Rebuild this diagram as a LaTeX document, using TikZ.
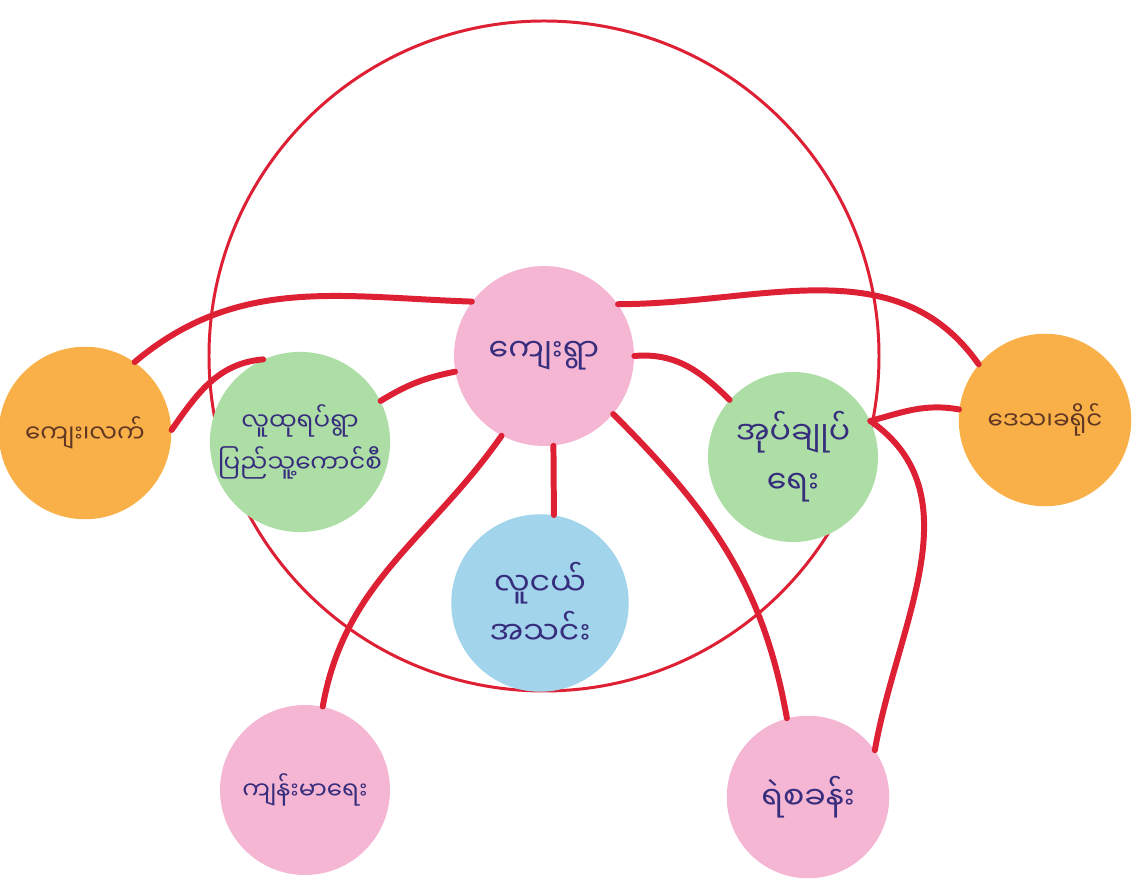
\documentclass[tikz,border=0pt]{standalone}
\usepackage{fontspec}
\newfontfamily\myan[Script=Myanmar]{Noto Sans Myanmar UI}
\usepackage{tikz}
\usetikzlibrary{positioning}
\definecolor{paperpink}{RGB}{245,182,212}
\definecolor{paperorange}{RGB}{250,176,72}
\definecolor{papergreen}{RGB}{172,222,165}
\definecolor{paperblue}{RGB}{162,212,236}
\definecolor{markerred}{RGB}{222,32,52}
\definecolor{penblue}{RGB}{55,45,125}
\definecolor{penbrown}{RGB}{95,55,35}
\tikzset{paper/.style={circle, inner sep=0pt, align=center, font=\myan\fontsize{18}{28}\selectfont, text=penblue},
	small text/.style={font=\myan\fontsize{14}{24}\selectfont},
	link/.style={draw=markerred, line width=3.4pt, line cap=round},
	ring/.style={draw=markerred, line width=1.7pt}
}
\tikzstyle{pink_node} = [paper, fill=paperpink]
\tikzstyle{orange_node} = [paper, small text, fill=paperorange, text=penbrown, minimum size=3.45cm]
\tikzstyle{green_node} = [paper, fill=papergreen, minimum size=3.4cm]
\tikzstyle{blue_node} = [paper, fill=paperblue, minimum size=3.55cm]

\begin{document}
\begin{tikzpicture}
			\useasboundingbox (-10.88,7.12) rectangle (11.9,-10.5);
			\node[pink_node, minimum size=3.6cm](village){ကျေးရွာ};
			\draw[ring] (village.center) circle (6.7cm);
			\node[orange_node, left of=village, xshift=-8.18cm, yshift=-1.54cm](rural){ကျေး၊လက်};
			\node[green_node, small text, minimum size=3.2cm, left of=village, xshift=-3.88cm, yshift=-1.72cm](people){လူထုရပ်ရွာ\\ပြည်သူ့ကောင်စီ};
			\node[green_node, right of=village, xshift=3.98cm, yshift=-2.02cm](admin){အုပ်ချုပ်\\ရေး};
			\node[orange_node, right of=village, xshift=9.02cm, yshift=-1.28cm](district){ဒေသ၊ခရိုင်};
			\node[blue_node, below of=village, xshift=-.08cm, yshift=-3.94cm](youth){လူငယ်\\အသင်း};
			\node[pink_node, small text, minimum size=3.4cm, below of=people, xshift=.1cm, yshift=-5.96cm](health){ကျန်းမာရေး};
			\node[pink_node, minimum size=3.25cm, below of=admin, xshift=.3cm, yshift=-5.8cm](police){ရဲစခန်း};
			
			% draw lines
			\draw[link] (rural.55) to[out=40, in=178] (village.143);
			\draw[link] (rural.2) to[out=55, in=185] (people.114);
			\draw[link] (people.27) to[bend left=10] (village.190);
			\draw[link] (village.242) to[out=235, in=80] (health.78);
			\draw[link] (village.276) -- (youth.81);
			\draw[link] (village.0) to[out=5, in=135] (admin.138);
			\draw[link] (village.35) to[out=0, in=125] (district.140);
			\draw[link] (admin.25) to[out=15, in=170] (district.173);
			\draw[link] (village.320) to[out=-45, in=100] (police.105);
			\draw[link] (admin.25) to[out=-35, in=80] (police.35);
		\end{tikzpicture}
\end{document}
